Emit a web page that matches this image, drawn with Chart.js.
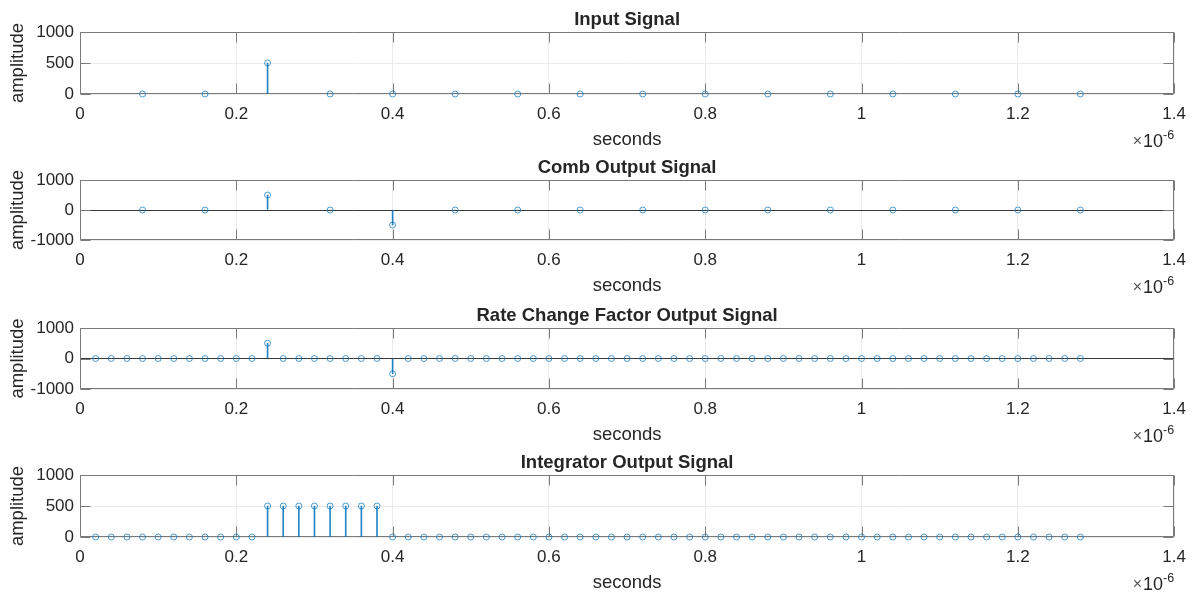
<!DOCTYPE html>
<html>
<head>
<meta charset="utf-8">
<script src="https://cdn.jsdelivr.net/npm/chart.js@4.4.0/dist/chart.umd.min.js"></script>
<style>
  html, body { margin: 0; padding: 0; background: #fff; }
  #wrap { position: relative; width: 1196px; height: 594px; overflow: hidden; }
  .panel { position: absolute; left: 0; width: 1196px; height: 148px; }
</style>
</head>
<body>
<div id="wrap">
  <div class="panel" style="top:0px"><canvas id="c0"></canvas></div>
  <div class="panel" style="top:148px"><canvas id="c1"></canvas></div>
  <div class="panel" style="top:296px"><canvas id="c2"></canvas></div>
  <div class="panel" style="top:443px"><canvas id="c3"></canvas></div>
</div>
<script>
'use strict';

// ***** DATA (time in units of 1e-6 s) *****
let titles = ['Input Signal', 'Comb Output Signal', 'Rate Change Factor Output Signal', 'Integrator Output Signal'];

let tSlow = [0.08, 0.16, 0.24, 0.32, 0.40, 0.48, 0.56, 0.64, 0.72, 0.80, 0.88, 0.96, 1.04, 1.12, 1.20, 1.28];

let tFast = [0.02, 0.04, 0.06, 0.08, 0.10, 0.12, 0.14, 0.16, 0.18, 0.20, 0.22, 0.24, 0.26, 0.28, 0.30, 0.32,
             0.34, 0.36, 0.38, 0.40, 0.42, 0.44, 0.46, 0.48, 0.50, 0.52, 0.54, 0.56, 0.58, 0.60, 0.62, 0.64,
             0.66, 0.68, 0.70, 0.72, 0.74, 0.76, 0.78, 0.80, 0.82, 0.84, 0.86, 0.88, 0.90, 0.92, 0.94, 0.96,
             0.98, 1.00, 1.02, 1.04, 1.06, 1.08, 1.10, 1.12, 1.14, 1.16, 1.18, 1.20, 1.22, 1.24, 1.26, 1.28];

let inputVals = [0, 0, 500, 0, 0, 0, 0, 0, 0, 0, 0, 0, 0, 0, 0, 0];

let combVals = [0, 0, 500, 0, -500, 0, 0, 0, 0, 0, 0, 0, 0, 0, 0, 0];

let rateVals = [0, 0, 0, 0, 0, 0, 0, 0, 0, 0, 0, 500, 0, 0, 0, 0,
                0, 0, 0, -500, 0, 0, 0, 0, 0, 0, 0, 0, 0, 0, 0, 0,
                0, 0, 0, 0, 0, 0, 0, 0, 0, 0, 0, 0, 0, 0, 0, 0,
                0, 0, 0, 0, 0, 0, 0, 0, 0, 0, 0, 0, 0, 0, 0, 0];

let integVals = [0, 0, 0, 0, 0, 0, 0, 0, 0, 0, 0, 500, 500, 500, 500, 500,
                 500, 500, 500, 0, 0, 0, 0, 0, 0, 0, 0, 0, 0, 0, 0, 0,
                 0, 0, 0, 0, 0, 0, 0, 0, 0, 0, 0, 0, 0, 0, 0, 0,
                 0, 0, 0, 0, 0, 0, 0, 0, 0, 0, 0, 0, 0, 0, 0, 0];

let xTicks = [0, 0.2, 0.4, 0.6, 0.8, 1, 1.2, 1.4];
let yTicksPos = [0, 500, 1000];
let yTicksSym = [-1000, 0, 1000];

// ***** STYLE *****
const FONT = '"Liberation Sans", Arial, Helvetica, sans-serif';
const TEXT = '#262626';
const AXIS = '#7a7a7a';
const GRID = '#ebebeb';
const STEM = 'rgba(0,114,189,0.85)';
const MARK = 'rgba(0,114,189,0.7)';
const CANVAS_H = 148;
const PAD_TOP = 32;

let panels = [
  { id: 'c0', title: titles[0], t: tSlow, v: inputVals, yMin: 0, yMax: 1000, yTicks: yTicksPos, plotH: 62 },
  { id: 'c1', title: titles[1], t: tSlow, v: combVals, yMin: -1000, yMax: 1000, yTicks: yTicksSym, plotH: 60 },
  { id: 'c2', title: titles[2], t: tFast, v: rateVals, yMin: -1000, yMax: 1000, yTicks: yTicksSym, plotH: 61 },
  { id: 'c3', title: titles[3], t: tFast, v: integVals, yMin: 0, yMax: 1000, yTicks: yTicksPos, plotH: 62 }
];

function toPoints(t, v) {
  let pts = [];
  for (let i = 0; i < t.length; i++) {
    pts.push({ x: t[i], y: v[i] });
  }
  return pts;
}

// draws MATLAB-like box, inward ticks, title, labels, exponent
function decoPlugin(p) {
  return {
    id: 'deco',
    beforeDatasetsDraw(chart) {
      let ctx = chart.ctx;
      let a = chart.chartArea;
      let xs = chart.scales.x;
      let ys = chart.scales.y;
      let L = Math.round(a.left) + 0.5;
      let R = Math.round(a.right) - 0.5;
      let T = Math.round(a.top) + 0.5;
      let B = Math.round(a.bottom) - 0.5;
      ctx.save();
      ctx.strokeStyle = AXIS;
      ctx.lineWidth = 1;
      ctx.beginPath();
      ctx.rect(L, T, R - L, B - T);
      // x ticks, inward on bottom and top
      xTicks.forEach(v => {
        let px = Math.round(xs.getPixelForValue(v)) + 0.5;
        ctx.moveTo(px, B); ctx.lineTo(px, B - 10);
        ctx.moveTo(px, T); ctx.lineTo(px, T + 10);
      });
      p.yTicks.forEach(v => {
        let py = Math.round(ys.getPixelForValue(v)) + 0.5;
        ctx.moveTo(L, py); ctx.lineTo(L + 10, py);
        ctx.moveTo(R, py); ctx.lineTo(R - 10, py);
      });
      ctx.stroke();
      ctx.restore();
    },
    afterDraw(chart) {
      let ctx = chart.ctx;
      let a = chart.chartArea;
      ctx.save();
      let cx = (a.left + a.right) / 2;
      ctx.fillStyle = TEXT;
      ctx.textAlign = 'center';
      ctx.textBaseline = 'alphabetic';
      ctx.font = 'bold 18.5px ' + FONT;
      ctx.fillText(p.title, cx, a.top - 7);

      ctx.font = '18.5px ' + FONT;
      ctx.fillText('seconds', cx, a.bottom + 51);

      ctx.save();
      ctx.translate(23, (a.top + a.bottom) / 2);
      ctx.rotate(-Math.PI / 2);
      ctx.fillText('amplitude', 0, 0);
      ctx.restore();

      // exponent label
      ctx.textAlign = 'right';
      ctx.font = '12.5px ' + FONT;
      ctx.fillText('-6', a.right, a.bottom + 45);
      let w = ctx.measureText('-6').width;
      ctx.font = '18px ' + FONT;
      ctx.fillText('10', a.right - w, a.bottom + 53);
      let w2 = ctx.measureText('10').width;
      ctx.fillStyle = '#555';
      ctx.font = '16px ' + FONT;
      ctx.fillText('\u00d7', a.right - w - w2 - 1, a.bottom + 52);
      ctx.restore();
    }
  };
}

function renderPanel(p) {
  let canvas = document.getElementById(p.id);
  let pts = toPoints(p.t, p.v);
  new Chart(canvas, {
    type: 'scatter',
    data: {
      datasets: [
        {
          type: 'scatter',
          data: pts,
          order: 0,
          clip: false,
          pointStyle: 'circle',
          pointRadius: 3,
          pointBorderWidth: 1,
          pointBorderColor: MARK,
          pointBackgroundColor: 'rgba(0,0,0,0)',
          pointHoverRadius: 3
        },
        {
          type: 'bar',
          data: pts,
          order: 1,
          barThickness: 1,
          backgroundColor: STEM,
          borderWidth: 0
        }
      ]
    },
    options: {
      responsive: true,
      maintainAspectRatio: false,
      animation: false,
      events: [],
      layout: { padding: { top: PAD_TOP, right: 21, left: 0, bottom: 0 } },
      plugins: { legend: { display: false }, tooltip: { enabled: false }, title: { display: false } },
      scales: {
        x: {
          type: 'linear',
          min: 0,
          max: 1.4,
          offset: false,
          afterBuildTicks: s => { s.ticks = xTicks.map(v => ({ value: v })); },
          afterFit: s => { s.height = CANVAS_H - PAD_TOP - p.plotH; },
          border: { display: false },
          grid: { color: GRID, offset: false, drawTicks: false, lineWidth: 1 },
          ticks: {
            autoSkip: false,
            maxRotation: 0,
            padding: 10,
            color: TEXT,
            font: { family: FONT, size: 17 },
            callback: v => String(v)
          }
        },
        y: {
          type: 'linear',
          min: p.yMin,
          max: p.yMax,
          afterBuildTicks: s => { s.ticks = p.yTicks.map(v => ({ value: v })); },
          afterFit: s => { s.width = 80; },
          border: { display: false },
          grid: {
            drawTicks: false,
            lineWidth: 1,
            color: c => (c.tick && c.tick.value === 0 && p.yMin < 0) ? '#3a3a3a' : GRID
          },
          ticks: {
            padding: 6,
            color: TEXT,
            font: { family: FONT, size: 17 },
            callback: v => String(v)
          }
        }
      }
    },
    plugins: [decoPlugin(p)]
  });
}

panels.forEach(renderPanel);
</script>
</body>
</html>
